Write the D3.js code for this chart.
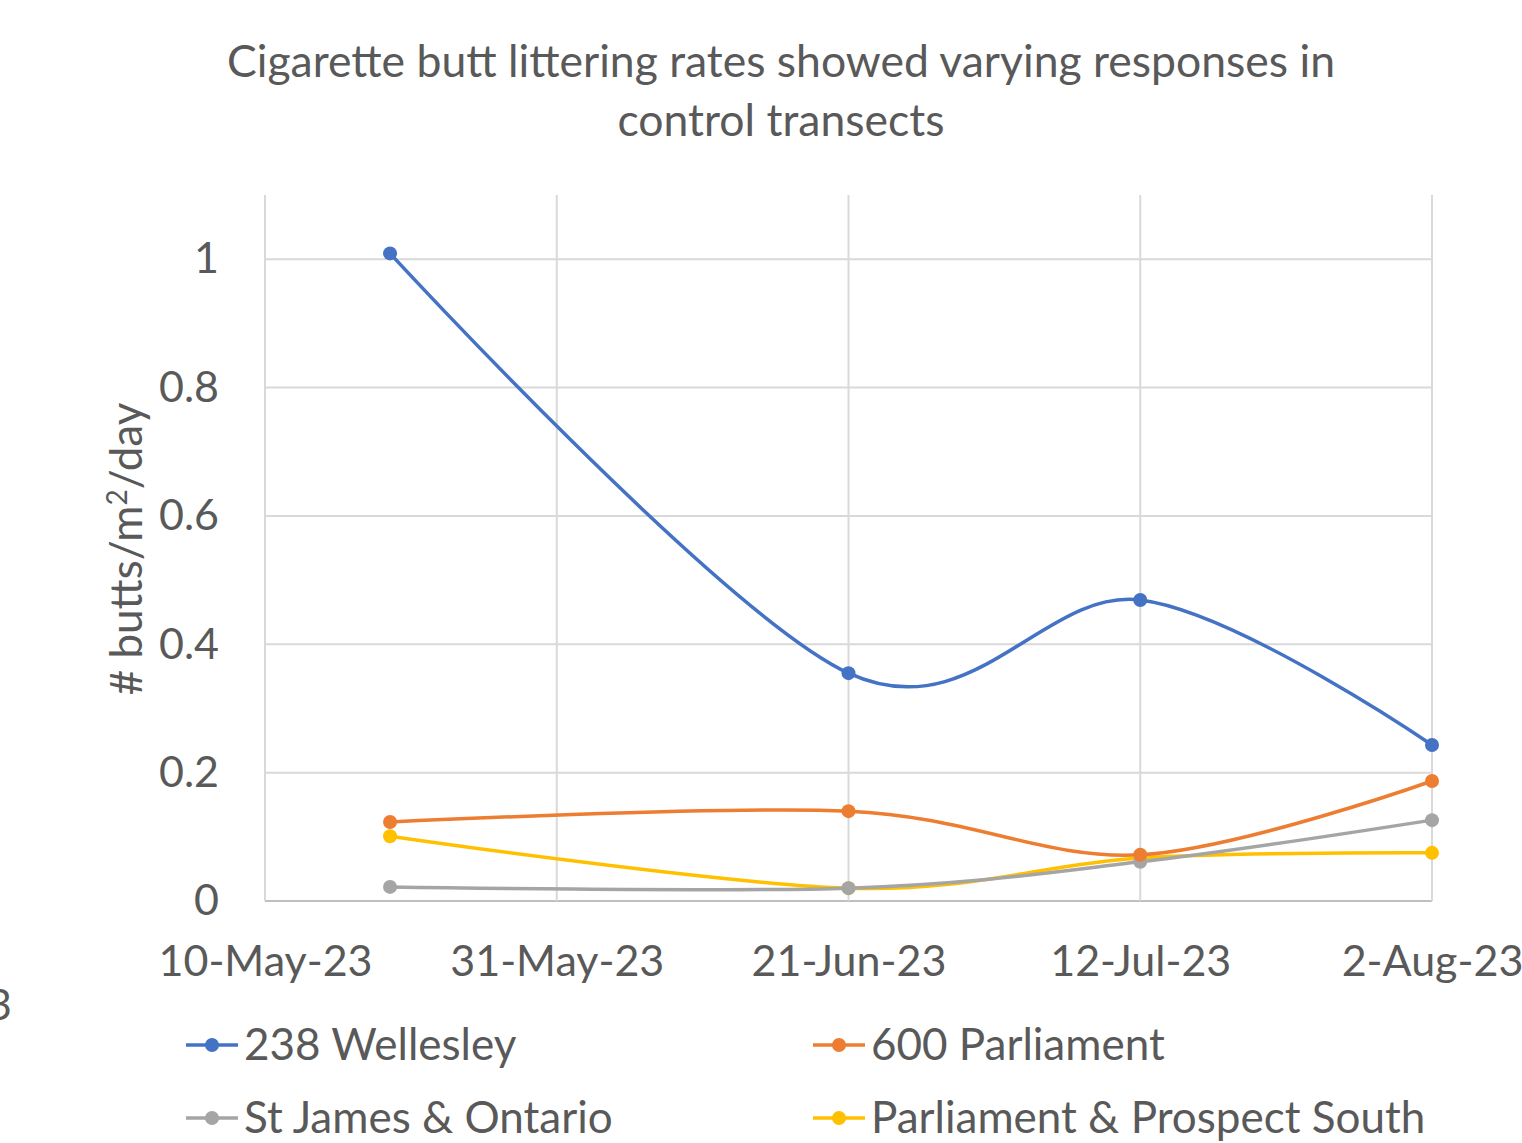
<!DOCTYPE html>
<html>
<head>
<meta charset="utf-8">
<title>Cigarette butt littering rates</title>
<script src="https://d3js.org/d3.v7.min.js"></script>
<style>
  body { margin: 0; background: #fff; }
  text { font-family: "Lato", "Open Sans", sans-serif; fill: #595959; }
</style>
</head>
<body>
<div id="chart"></div>
<script>
// data
var dates = ["2023-05-19", "2023-06-21", "2023-07-12", "2023-08-02"];
var wellesley = [1.009, 0.355, 0.469, 0.243];
var parliament600 = [0.123, 0.140, 0.072, 0.187];
var stJames = [0.022, 0.020, 0.061, 0.126];
var prospectSouth = [0.101, 0.020, 0.067, 0.075];
var seriesNames = ["238 Wellesley", "600 Parliament", "St James & Ontario", "Parliament & Prospect South"];
var seriesColors = ["#4472C4", "#ED7D31", "#A5A5A5", "#FFC000"];
var xTicks = ["2023-05-10", "2023-05-31", "2023-06-21", "2023-07-12", "2023-08-02"];
var yTicks = [0, 0.2, 0.4, 0.6, 0.8, 1];

var W = 1522, H = 1143;
var plot = {left: 265, right: 1432, top: 195, bottom: 901};

var parse = d3.timeParse("%Y-%m-%d");
var fmt = d3.timeFormat("%-d-%b-%y");

var svg = d3.select("#chart").append("svg")
  .attr("width", W).attr("height", H);

var x = d3.scaleTime()
  .domain([parse(xTicks[0]), parse(xTicks[xTicks.length - 1])])
  .range([plot.left, plot.right]);

var y = d3.scaleLinear()
  .domain([0, 1.1])
  .range([plot.bottom, plot.top]);

// title
svg.append("text")
  .attr("x", 781).attr("y", 77)
  .attr("text-anchor", "middle")
  .style("font-size", "44.5px")
  .text("Cigarette butt littering rates showed varying responses in");
svg.append("text")
  .attr("x", 781).attr("y", 136)
  .attr("text-anchor", "middle")
  .style("font-size", "44.5px")
  .text("control transects");

// horizontal gridlines
svg.append("g")
  .selectAll("line")
  .data(yTicks)
  .join("line")
  .attr("x1", plot.left).attr("x2", plot.right)
  .attr("y1", d => y(d)).attr("y2", d => y(d))
  .attr("stroke", d => d === 0 ? "#bfbfbf" : "#d9d9d9")
  .attr("stroke-width", 2);

// vertical gridlines
svg.append("g")
  .selectAll("line")
  .data(xTicks)
  .join("line")
  .attr("x1", d => x(parse(d))).attr("x2", d => x(parse(d)))
  .attr("y1", plot.top).attr("y2", plot.bottom)
  .attr("stroke", "#d9d9d9")
  .attr("stroke-width", 2);

// x axis
var xAxis = svg.append("g")
  .attr("transform", "translate(0," + plot.bottom + ")")
  .call(d3.axisBottom(x).tickValues(xTicks.map(parse)).tickFormat(fmt).tickSize(0).tickPadding(44));
xAxis.select(".domain").remove();
xAxis.selectAll("text").style("font-size", "43px").attr("fill", "#595959")
  .style("font-family", "Lato, 'Open Sans', sans-serif");

// y axis
var yAxis = svg.append("g")
  .attr("transform", "translate(" + plot.left + ",0)")
  .call(d3.axisLeft(y).tickValues(yTicks).tickFormat(d3.format("")).tickSize(0).tickPadding(46));
yAxis.select(".domain").remove();
yAxis.selectAll("text").style("font-size", "43px").attr("fill", "#595959")
  .style("font-family", "Lato, 'Open Sans', sans-serif");

// clipped leftover label at the left edge
svg.append("text")
  .attr("x", 12).attr("y", 1020)
  .attr("text-anchor", "end")
  .style("font-size", "43px")
  .text("-23");

// y axis title
var yt = svg.append("text")
  .attr("transform", "translate(142,549) rotate(-90)")
  .attr("text-anchor", "middle")
  .style("font-size", "44px");
yt.append("tspan").text("# butts/m");
yt.append("tspan").attr("dy", -15).style("font-size", "28px").text("2");
yt.append("tspan").attr("dy", 15).text("/day");

// series
var allSeries = [wellesley, parliament600, stJames, prospectSouth];
var line = d3.line()
  .x(d => x(d.date))
  .y(d => y(d.value))
  .curve(d3.curveCardinal.tension(0));

// draw in reverse so blue stays on top like the original
[3, 2, 1, 0].forEach(function(i) {
  var pts = dates.map((d, j) => ({date: parse(d), value: allSeries[i][j]}));
  var g = svg.append("g");
  g.append("path")
    .datum(pts)
    .attr("fill", "none")
    .attr("stroke", seriesColors[i])
    .attr("stroke-width", 3.5)
    .attr("d", line);
  g.selectAll("circle")
    .data(pts)
    .join("circle")
    .attr("cx", d => x(d.date))
    .attr("cy", d => y(d.value))
    .attr("r", 7)
    .attr("fill", seriesColors[i]);
});

// legend
var legendPos = [[186, 1045], [813, 1045], [186, 1118], [813, 1118]];
seriesNames.forEach(function(name, i) {
  var lx = legendPos[i][0], ly = legendPos[i][1];
  var g = svg.append("g");
  g.append("line")
    .attr("x1", lx).attr("x2", lx + 52)
    .attr("y1", ly).attr("y2", ly)
    .attr("stroke", seriesColors[i]).attr("stroke-width", 3.5);
  g.append("circle")
    .attr("cx", lx + 26).attr("cy", ly).attr("r", 7)
    .attr("fill", seriesColors[i]);
  g.append("text")
    .attr("x", lx + 58).attr("y", ly + 15)
    .style("font-size", "44px")
    .text(name);
});
</script>
</body>
</html>
